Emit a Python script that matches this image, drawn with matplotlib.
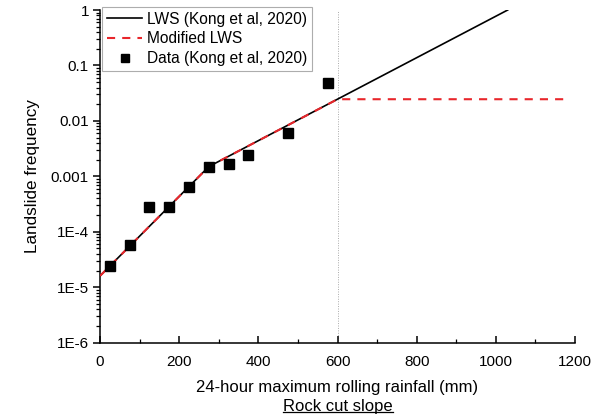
import matplotlib
matplotlib.use("Agg")
import matplotlib.pyplot as plt
from matplotlib.ticker import FixedLocator, FixedFormatter, LogLocator, NullFormatter, MultipleLocator
from matplotlib.lines import Line2D

plt.rcParams['font.family'] = ['Liberation Sans', 'DejaVu Sans']

# Data
data_x = [25, 75, 125, 175, 225, 275, 325, 375, 475, 575]
data_y = [2.4e-5, 5.8e-5, 2.8e-4, 2.8e-4, 6.5e-4, 1.5e-3, 1.7e-3, 2.4e-3, 6.0e-3, 0.048]

lws_x = [0, 275, 1030]
lws_y = [1.6e-5, 1.5e-3, 1.0]

mod_x = [0, 275, 600, 1180]
mod_y = [1.6e-5, 1.5e-3, 0.0246, 0.0246]

threshold_x = 600

y_ticks = [1e-6, 1e-5, 1e-4, 1e-3, 1e-2, 1e-1, 1]
y_ticklabels = ["1E-6", "1E-5", "1E-4", "0.001", "0.01", "0.1", "1"]
x_ticks = [0, 200, 400, 600, 800, 1000, 1200]

fig = plt.figure(figsize=(6.05, 4.19), dpi=100)
ax = fig.add_axes([100/605, (419-342.7)/419, 475/605, (342.7-10)/419])

ax.plot(lws_x, lws_y, color='black', lw=1.2, label='LWS (Kong et al, 2020)', zorder=3)
ax.plot(mod_x, mod_y, color='#e8262b', lw=1.5, ls=(0, (3.9, 3.4)), label='Modified LWS', zorder=4)
ax.plot(data_x, data_y, ls='none', marker='s', ms=6.5, color='black', label='Data (Kong et al, 2020)', zorder=5)
ax.axvline(threshold_x, color='#aaaaaa', lw=0.7, ls=(0, (1, 1.5)), zorder=1)

ax.set_yscale('log')
ax.set_xlim(0, 1200)
ax.set_ylim(1e-6, 1)

ax.yaxis.set_major_locator(FixedLocator(y_ticks))
ax.yaxis.set_major_formatter(FixedFormatter(y_ticklabels))
ax.yaxis.set_minor_locator(LogLocator(base=10, subs=range(2, 10), numticks=20))
ax.yaxis.set_minor_formatter(NullFormatter())
ax.xaxis.set_major_locator(FixedLocator(x_ticks))
ax.xaxis.set_minor_locator(MultipleLocator(100))

for s in ['top', 'right']:
    ax.spines[s].set_visible(False)
for s in ['left', 'bottom']:
    ax.spines[s].set_linewidth(1.1)

ax.tick_params(axis='y', which='major', direction='out', length=5, width=1.1, labelsize=11, pad=3)
ax.tick_params(axis='y', which='minor', direction='out', length=3, width=0.9)
ax.tick_params(axis='x', which='major', direction='in', length=5, width=1.1, labelsize=11, pad=9)
ax.tick_params(axis='x', which='minor', direction='in', length=3, width=0.9)

ax.set_xlabel('24-hour maximum rolling rainfall (mm)', fontsize=12, labelpad=8)
ax.set_ylabel('Landslide frequency', fontsize=12.3, labelpad=8)

leg = ax.legend(loc='upper left', bbox_to_anchor=(102/605, 1 - 7/419), bbox_transform=fig.transFigure,
                fontsize=11.2, frameon=True, fancybox=False, edgecolor='#999999',
                handlelength=2.3, handletextpad=0.3, markerscale=0.8,
                borderpad=0.3, labelspacing=0.3, borderaxespad=0)
leg.get_frame().set_linewidth(0.8)

t = fig.text(338/605, (419-406)/419, 'Rock cut slope', ha='center', va='center', fontsize=12)
fig.canvas.draw()
bb = t.get_window_extent(renderer=fig.canvas.get_renderer())
inv = fig.transFigure.inverted()
(x0, y0), (x1, y1) = inv.transform([(bb.x0, bb.y0), (bb.x1, bb.y0)])
fig.add_artist(Line2D([x0, x1], [y0 + 1.5/419, y0 + 1.5/419], transform=fig.transFigure, color='black', lw=0.9))

fig.savefig('out.png', dpi=100)
